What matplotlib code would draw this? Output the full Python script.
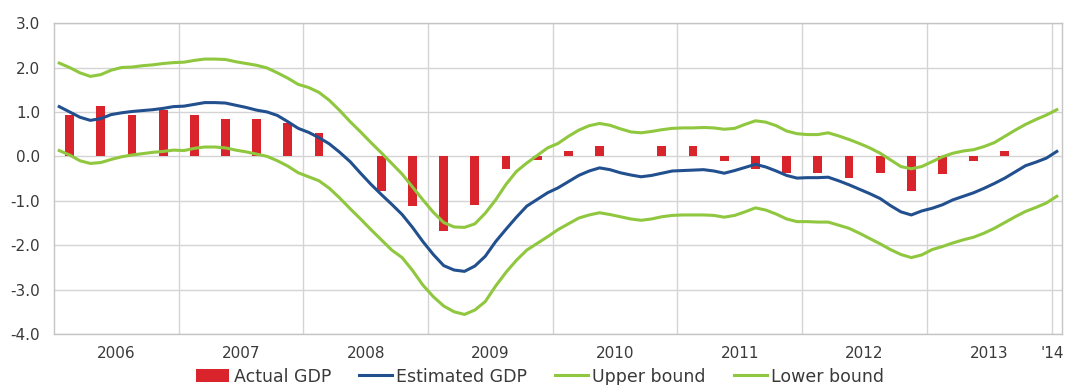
import matplotlib
matplotlib.use('Agg')
import matplotlib.pyplot as plt
import numpy as np

# Quarterly actual GDP growth, Q1 2006 .. Q4 2013 (last quarter not yet released)
actual_gdp = [
    0.94, 1.13, 0.94, 1.05,
    0.94, 0.84, 0.84, 0.75,
    0.53, 0.00, -0.78, -1.11,
    -1.69, -1.10, -0.28, -0.08,
    0.13, 0.23, 0.00, 0.23,
    0.23, -0.10, -0.28, -0.38,
    -0.38, -0.49, -0.38, -0.79,
    -0.40, -0.10, 0.13, np.nan,
]

# Monthly estimates, Jan 2006 .. Jan 2014
estimated_gdp = [
    1.12, 1.00, 0.88, 0.81, 0.85, 0.94, 0.98, 1.01, 1.03, 1.05, 1.08, 1.12,
    1.13, 1.17, 1.21, 1.21, 1.20, 1.15, 1.10, 1.04, 1.00, 0.92, 0.78, 0.63,
    0.54, 0.42, 0.28, 0.09, -0.12, -0.38, -0.63, -0.86, -1.08, -1.31, -1.60, -1.92,
    -2.21, -2.46, -2.56, -2.59, -2.47, -2.25, -1.92, -1.64, -1.37, -1.12, -0.97, -0.82,
    -0.71, -0.57, -0.43, -0.33, -0.26, -0.30, -0.37, -0.42, -0.46, -0.43, -0.38, -0.33,
    -0.32, -0.31, -0.30, -0.33, -0.38, -0.32, -0.25, -0.18, -0.24, -0.33, -0.43, -0.49,
    -0.48, -0.48, -0.47, -0.55, -0.64, -0.74, -0.84, -0.95, -1.11, -1.25, -1.32, -1.23,
    -1.17, -1.09, -0.98, -0.90, -0.82, -0.72, -0.61, -0.49, -0.35, -0.21, -0.13, -0.04,
    0.11,
]

upper_bound = [
    2.10, 2.00, 1.88, 1.80, 1.84, 1.94, 2.00, 2.01, 2.04, 2.06, 2.09, 2.11,
    2.12, 2.16, 2.19, 2.19, 2.18, 2.13, 2.09, 2.05, 1.99, 1.88, 1.76, 1.62,
    1.55, 1.44, 1.26, 1.03, 0.78, 0.55, 0.31, 0.08, -0.16, -0.40, -0.69, -0.98,
    -1.26, -1.49, -1.59, -1.60, -1.52, -1.28, -0.98, -0.63, -0.34, -0.15, 0.02, 0.19,
    0.29, 0.45, 0.59, 0.69, 0.74, 0.70, 0.62, 0.55, 0.53, 0.56, 0.60, 0.63,
    0.64, 0.64, 0.65, 0.64, 0.61, 0.63, 0.72, 0.80, 0.77, 0.69, 0.57, 0.51,
    0.49, 0.49, 0.53, 0.46, 0.38, 0.29, 0.19, 0.07, -0.08, -0.23, -0.28, -0.23,
    -0.12, -0.01, 0.07, 0.12, 0.15, 0.22, 0.31, 0.45, 0.59, 0.72, 0.83, 0.93,
    1.05,
]

lower_bound = [
    0.13, 0.03, -0.10, -0.16, -0.14, -0.07, -0.01, 0.03, 0.06, 0.09, 0.11, 0.14,
    0.13, 0.18, 0.21, 0.21, 0.19, 0.14, 0.10, 0.05, 0.00, -0.10, -0.22, -0.37,
    -0.46, -0.55, -0.72, -0.94, -1.18, -1.41, -1.65, -1.88, -2.11, -2.28, -2.57, -2.90,
    -3.16, -3.37, -3.50, -3.56, -3.46, -3.27, -2.92, -2.61, -2.34, -2.11, -1.96, -1.81,
    -1.65, -1.52, -1.39, -1.32, -1.27, -1.31, -1.36, -1.41, -1.44, -1.41, -1.36, -1.33,
    -1.32, -1.32, -1.32, -1.33, -1.37, -1.33, -1.25, -1.16, -1.21, -1.30, -1.41, -1.47,
    -1.47, -1.48, -1.48, -1.55, -1.62, -1.73, -1.85, -1.97, -2.10, -2.21, -2.28, -2.22,
    -2.10, -2.03, -1.95, -1.88, -1.82, -1.73, -1.62, -1.49, -1.36, -1.24, -1.15, -1.05,
    -0.90,
]

year_labels = ['2006', '2007', '2008', '2009', '2010', '2011', '2012', '2013', "'14"]

RED = '#d9242b'
BLUE = '#22508f'
GREEN = '#8fc73e'
GRID = '#d4d4d4'
TEXT = '#3a3a3a'

months = np.arange(len(estimated_gdp))
quarter_mid = np.arange(len(actual_gdp)) * 3 + 1  # middle month of each quarter

fig = plt.figure(figsize=(10.74, 3.85), dpi=100)
ax = fig.add_axes([0.0503, 0.1325, 0.9385, 0.8075])

bars = ax.bar(quarter_mid, actual_gdp, width=0.85, color=RED, zorder=2,
              label='Actual GDP')
l_est, = ax.plot(months, estimated_gdp, color=BLUE, lw=2.2, zorder=3,
                 label='Estimated GDP')
l_up, = ax.plot(months, upper_bound, color=GREEN, lw=2.2, zorder=3,
                label='Upper bound')
l_lo, = ax.plot(months, lower_bound, color=GREEN, lw=2.2, zorder=3,
                label='Lower bound')

ax.set_xlim(-0.5, 96.5)
ax.set_ylim(-4.0, 3.0)

# gridlines: every 1.0 on y, year boundaries on x
ax.set_yticks(np.arange(-4, 3.1, 1.0))
ax.set_yticklabels([f'{v:.1f}' for v in np.arange(-4, 3.1, 1.0)])
ax.set_xticks(np.arange(11.5, 96, 12))
ax.set_xticklabels([])
ax.grid(True, color=GRID, lw=1.0, zorder=0)
ax.set_axisbelow(True)

# year names sit in the middle of each year
label_pos = list(np.arange(5.5, 96, 12)[:8]) + [95.6]
ax.set_xticks(label_pos, minor=True)
ax.set_xticklabels(year_labels, minor=True)

ax.tick_params(axis='both', which='both', length=0, colors=TEXT, labelsize=11)
ax.tick_params(axis='y', pad=10)
ax.tick_params(axis='x', which='minor', pad=9)

for side in ['left', 'right', 'top', 'bottom']:
    ax.spines[side].set_color('#c4c4c4')
    ax.spines[side].set_linewidth(1.0)

fig.legend(handles=[bars, l_est, l_up, l_lo], loc='center',
           bbox_to_anchor=(0.503, 0.022), ncol=4, frameon=False,
           fontsize=12.5, handlelength=1.9, handletextpad=0.25,
           columnspacing=1.6, labelcolor=TEXT)

fig.savefig('out.png', dpi=100)
plt.close(fig)
